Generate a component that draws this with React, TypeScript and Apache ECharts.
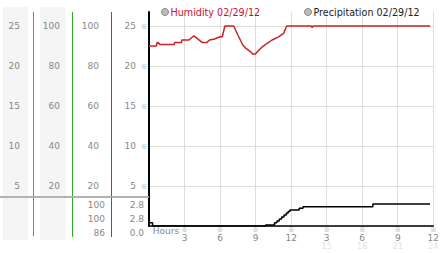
import React, { useEffect, useRef } from "react";
import * as echarts from "echarts";

// ---- data ----
const humidityName = "Humidity 02/29/12";
const precipName = "Precipitation 02/29/12";

// [hour, % relative humidity]
const humidity: [number, number][] = [
  [0.0, 90.0], [0.63, 90.0], [0.65, 91.3], [0.74, 91.8], [0.91, 90.8], [2.14, 90.8],
  [2.16, 91.8], [2.75, 91.8], [2.77, 93.0], [3.38, 93.0], [3.79, 95.1], [4.48, 91.8],
  [4.89, 91.8], [5.11, 93.0], [5.53, 93.5], [6.0, 94.6], [6.2, 94.6], [6.22, 95.5],
  [6.41, 100], [7.15, 100], [7.5, 95.5], [7.92, 90.5], [8.19, 88.8], [8.58, 87.1],
  [8.74, 86.0], [8.99, 86.0], [9.15, 87.1], [9.57, 89.6], [9.98, 91.3], [10.39, 93.0],
  [10.94, 94.6], [11.36, 96.3], [11.63, 100], [13.7, 100], [13.77, 99.2], [13.85, 100],
  [23.73, 100],
];

// [hour, accumulated precipitation]
const precipitation: [number, number][] = [
  [0, 0.4], [0.3, 0], [9.84, 0.12], [10.6, 0.4], [10.8, 0.65], [11.0, 0.9], [11.2, 1.15],
  [11.4, 1.4], [11.6, 1.65], [11.75, 1.85], [11.9, 2.04], [12.68, 2.25], [13.0, 2.46],
  [18.9, 2.8], [23.73, 2.8],
];

const humidityStats = ["100", "100", "86"];
const precipStats = ["2.8", "2.8", "0.0"];

const FONT = "DejaVu Sans";
const MARK_FONT = "Noto Sans CJK JP";
const GREY = "#888";

export default function App() {
  const ref = useRef<HTMLDivElement>(null);
  useEffect(() => {
    if (!ref.current) return;
    const chart = echarts.init(ref.current, null, { renderer: "svg" });

    const plainLabel = {
      fontFamily: FONT,
      fontSize: 9,
      color: GREY,
      margin: 0,
    };

    const statTexts: any[] = [];
    const statY = [205, 219, 232.5];
    humidityStats.forEach((s, i) =>
      statTexts.push({
        type: "text", x: 105, y: statY[i], z: 5,
        style: { text: s, fill: GREY, font: `9px "${FONT}"`, textAlign: "right", textVerticalAlign: "middle" },
      })
    );
    precipStats.forEach((s, i) =>
      statTexts.push({
        type: "text", x: 144, y: statY[i], z: 5,
        style: { text: s, fill: GREY, font: `9px "${FONT}"`, textAlign: "right", textVerticalAlign: "middle" },
      })
    );

    const option: any = {
      animation: false,
      backgroundColor: "#fff",
      textStyle: { fontFamily: FONT },
      legend: [
        {
          left: 156, top: 2, itemWidth: 7, itemHeight: 7, icon: "circle", selectedMode: false,
          data: [{ name: humidityName, itemStyle: { color: "#bbb", borderColor: "#888", borderWidth: 1 } }],
          textStyle: { color: "#c8102e", fontSize: 9.6, fontFamily: FONT, padding: [0, 0, 0, -3] },
        },
        {
          left: 299, top: 2, itemWidth: 7, itemHeight: 7, icon: "circle", selectedMode: false,
          data: [{ name: precipName, itemStyle: { color: "#bbb", borderColor: "#888", borderWidth: 1 } }],
          textStyle: { color: "#222", fontSize: 9.6, fontFamily: FONT, padding: [0, 0, 0, -3] },
        },
      ],
      grid: { left: 149, top: 12, right: 2, bottom: 27, containLabel: false },
      xAxis: {
        type: "value", min: 0, max: 24, interval: 3,
        axisLine: { show: true, lineStyle: { color: "#000", width: 1.5 } },
        axisTick: { show: false },
        splitLine: { show: true, lineStyle: { color: "#ddd", width: 1 } },
        axisLabel: {
          margin: 0,
          formatter: (v: number) => {
            if (v === 0) return "{h|Hours}\n{v| }\n{f| }";
            const h = v % 12 === 0 ? 12 : v % 12;
            const second = v > 12 ? String(v) : " ";
            return `{m|※}\n{v|${h}}\n{f|${second}}`;
          },
          rich: {
            h: { fontFamily: FONT, fontSize: 9, color: GREY, lineHeight: 9, padding: [0, 0, 0, 34] },
            m: { fontFamily: MARK_FONT, fontSize: 6, color: "#999", lineHeight: 7 },
            v: { fontFamily: FONT, fontSize: 9, color: GREY, lineHeight: 9 },
            f: { fontFamily: FONT, fontSize: 8, color: "#e2e2e2", lineHeight: 8 },
          },
        },
      },
      yAxis: [
        {
          type: "value", position: "left", min: 0, max: 26.75, interval: 5,
          axisLine: { show: true, onZero: false, lineStyle: { color: "#000", width: 2 } },
          axisTick: { show: false },
          splitLine: { show: true, showMaxLine: false, lineStyle: { color: "#ddd", width: 1 } },
          axisLabel: {
            margin: 2,
            formatter: (v: number) => (v === 0 || v > 25 ? "" : `{v|${v}}{m|※}`),
            rich: {
              v: { fontFamily: FONT, fontSize: 9, color: GREY },
              m: { fontFamily: MARK_FONT, fontSize: 6, color: "#999", padding: [0, 0, 0, 5] },
            },
          },
        },
        {
          type: "value", position: "left", offset: 129, min: 0, max: 26.75, interval: 5,
          axisLine: { show: false }, axisTick: { show: false }, splitLine: { show: false },
          axisLabel: { ...plainLabel, formatter: (v: number) => (v === 0 || v > 25 ? "" : String(v)) },
        },
        {
          type: "value", position: "left", offset: 89, min: 0, max: 107, interval: 20,
          axisLine: { show: false }, axisTick: { show: false }, splitLine: { show: false },
          axisLabel: { ...plainLabel, formatter: (v: number) => (v === 0 || v > 100 ? "" : String(v)) },
        },
        {
          type: "value", position: "left", offset: 50, min: 0, max: 107, interval: 20,
          axisLine: { show: false }, axisTick: { show: false }, splitLine: { show: false },
          axisLabel: { ...plainLabel, formatter: (v: number) => (v === 0 || v > 100 ? "" : String(v)) },
        },
        {
          type: "value", min: 0, max: 27.2, show: false,
        },
      ],
      series: [
        {
          name: humidityName, type: "line", yAxisIndex: 3, data: humidity,
          showSymbol: false, symbol: "none",
          lineStyle: { color: "#cc2222", width: 1.5 }, itemStyle: { color: "#cc2222" },
          z: 3,
        },
        {
          name: precipName, type: "line", yAxisIndex: 4, data: precipitation, step: "end",
          showSymbol: false, symbol: "none",
          lineStyle: { color: "#000", width: 1.5 }, itemStyle: { color: "#000" },
          z: 3,
        },
      ],
      graphic: [
        { type: "rect", z: -10, shape: { x: 3, y: 7, width: 25, height: 233 }, style: { fill: "#f5f5f5" } },
        { type: "rect", z: -10, shape: { x: 40, y: 7, width: 26, height: 233 }, style: { fill: "#f5f5f5" } },
        { type: "line", z: 4, shape: { x1: 33.5, y1: 12, x2: 33.5, y2: 236 }, style: { stroke: "#2a9fd0", lineWidth: 1 } },
        { type: "line", z: 4, shape: { x1: 72.5, y1: 12, x2: 72.5, y2: 237 }, style: { stroke: "#2ea82e", lineWidth: 1 } },
        { type: "line", z: 4, shape: { x1: 111.5, y1: 12, x2: 111.5, y2: 237 }, style: { stroke: "#cc2a2a", lineWidth: 1 } },
        { type: "line", z: 5, shape: { x1: 0, y1: 197, x2: 149, y2: 197 }, style: { stroke: "#aaa", lineWidth: 2, opacity: 0.9 } },
        ...statTexts,
      ],
    };
    chart.setOption(option);
    return () => chart.dispose();
  }, []);
  return (
    <div
      ref={ref}
      style={{ position: "fixed", left: 0, top: 0, width: 442, height: 253 }}
    />
  );
}
